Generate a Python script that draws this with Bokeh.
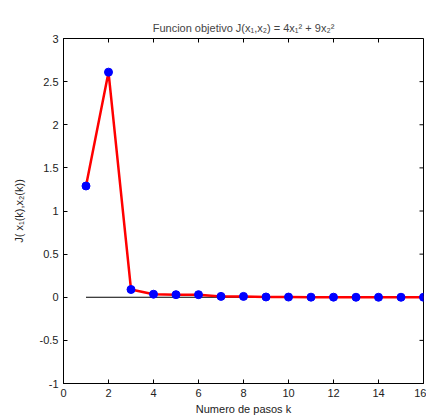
import math
from bokeh.plotting import figure
from bokeh.models import FixedTicker, Range1d
from bokeh.embed import file_html
from bokeh.resources import INLINE

k = list(range(1, 17))
J = [1.29, 2.61, 0.09, 0.035, 0.03, 0.03, 0.01, 0.01, 0.003, 0.002, 0.001, 0.001, 0.0, 0.0, 0.0, 0.0]
zero_line_x = [1, 16]
zero_line_y = [0, 0]
x_ticks = [0, 2, 4, 6, 8, 10, 12, 14, 16]
y_ticks = [-1, -0.5, 0, 0.5, 1, 1.5, 2, 2.5, 3]
y_labels = ["-1", "-0.5", "0", "0.5", "1", "1.5", "2", "2.5", "3"]
x_min, x_max = 0, 16
y_min, y_max = -1, 3
x_title = "Numero de pasos k"
y_title = "J( x\u2081(k),x\u2082(k))"

FONT = "Liberation Sans"

p = figure(width=426, height=417, output_backend="svg", toolbar_location=None,
           x_range=Range1d(x_min, x_max), y_range=Range1d(y_min, y_max),
           min_border_left=63, min_border_right=3, min_border_top=38, min_border_bottom=34,
           title="Funcion objetivo J(x\u2081,x\u2082) = 4x\u2081\u00b2 + 9x\u2082\u00b2")
p.title.align = "center"
p.title.text_font = FONT
p.title.text_font_size = "11px"
p.title.text_font_style = "normal"
p.grid.visible = False
p.outline_line_color = "black"
p.outline_line_width = 1
p.background_fill_color = "white"
p.border_fill_color = "white"

def style(ax):
    ax.major_tick_in = 4
    ax.major_tick_out = 0
    ax.minor_tick_in = 0
    ax.minor_tick_out = 0
    ax.axis_line_color = "black"
    ax.major_tick_line_color = "black"
    ax.major_label_text_font = FONT
    ax.major_label_text_font_size = "11px"
    ax.major_label_text_color = "#222222"
    ax.axis_label_text_font = FONT
    ax.axis_label_text_font_size = "11px"
    ax.axis_label_text_font_style = "normal"
    ax.axis_label_text_color = "#222222"

xa = p.xaxis[0]
ya = p.yaxis[0]
xa.ticker = FixedTicker(ticks=x_ticks)
ya.ticker = FixedTicker(ticks=y_ticks)
ya.major_label_overrides = {t: l for t, l in zip(y_ticks, y_labels)}
xa.axis_label = x_title
ya.axis_label = y_title
style(xa)
style(ya)
xa.major_label_standoff = 5
xa.axis_label_standoff = 3
ya.major_label_standoff = 5
ya.axis_label_standoff = 12

# inward ticks on the top and right edges of the box
p.ray(x=x_ticks, y=[y_max] * len(x_ticks), length=4, length_units="screen",
      angle=-math.pi / 2, line_color="black", line_width=1)
p.ray(x=[x_max] * len(y_ticks), y=y_ticks, length=4, length_units="screen",
      angle=math.pi, line_color="black", line_width=1)

p.line(zero_line_x, zero_line_y, line_color="black", line_width=1)
p.line(k, J, line_color="red", line_width=2.5)
p.scatter(k, J, size=8, fill_color="blue", line_color="blue")

open("out.html", "w").write(file_html(p, INLINE))
